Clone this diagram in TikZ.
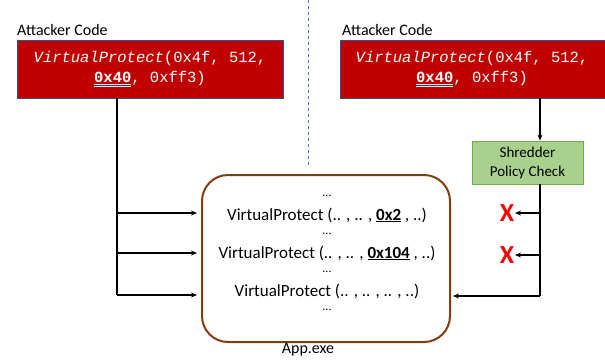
\documentclass[tikz,border=0pt]{standalone}
\usepackage{fontspec}
\setmainfont{Carlito}
\setmonofont{Liberation Mono}
\usetikzlibrary{arrows.meta}
\definecolor{boxred}{HTML}{C00000}
\definecolor{boxedge}{HTML}{2F528F}
\definecolor{grfill}{HTML}{A9D18E}
\definecolor{gredge}{HTML}{70AD47}
\definecolor{brown}{HTML}{843C0C}
\definecolor{dashblue}{HTML}{4472C4}
\newcommand{\dul}[1]{\underline{\underline{#1}}}
\tikzset{
  attbox/.style={draw=boxedge, line width=0.8pt, fill=boxred},
  codetext/.style={text=white, font=\ttfamily\fontsize{15.5}{20}\selectfont, align=center},
  lbl/.style={font=\fontsize{16}{18}\selectfont, anchor=west, inner sep=0pt},
  conn/.style={line width=1.3pt, -{Stealth[length=6pt,width=5pt]}},
  plain/.style={line width=1.3pt},
  apptext/.style={font=\fontsize{17}{19}\selectfont, inner sep=0pt},
  dots/.style={font=\fontsize{12}{14}\selectfont, inner sep=0pt},
  xmark/.style={text=red, font=\bfseries\fontsize{26}{28}\selectfont, inner sep=0pt}
}
\begin{document}
\begin{tikzpicture}[x=1pt,y=-1pt]
\useasboundingbox (0,0) rectangle (605,360);
% dashed divider
\draw[dashblue, dashed, line width=0.8pt] (308,0) -- (308,167);
% labels
\node[lbl] (l1) at (17,30) {Attacker Code};
\node[lbl] (l2) at (342,30) {Attacker Code};
% red boxes
\draw[attbox] (17,40) rectangle (283,98);
\coordinate (b1) at (117,98);
\node[codetext] (c1) at (150,69) {\textit{VirtualProtect}(0x4f, 512,\\\dul{\textbf{0x40}}, 0xff3)};
\draw[attbox] (340,40) rectangle (605,98);
\coordinate (b2) at (540,98);
\node[codetext] (c2) at (472,69) {\textit{VirtualProtect}(0x4f, 512,\\\dul{\textbf{0x40}}, 0xff3)};
% green box
\node[draw=gredge, line width=0.8pt, fill=grfill, minimum width=111pt, minimum height=43pt, align=center, inner sep=1pt, font=\fontsize{15}{19}\selectfont] (g) at (527.5,162.5) {Shredder\\Policy Check};
\draw[conn] (b2) -- (g.north -| b2);
% app box
\draw[brown, line width=2pt, rounded corners=26pt] (202,175) rectangle (450,342);
\node[dots] (d1) at (327,196) {...};
\node[apptext] (v1) at (327,215) {VirtualProtect (.. , .. , \underline{\textbf{0x2}} , ..)};
\node[dots] (d2) at (327,234) {...};
\node[apptext] (v2) at (327,253) {VirtualProtect (.. , .. , \underline{\textbf{0x104}} , ..)};
\node[dots] (d3) at (327,272) {...};
\node[apptext] (v3) at (327,291) {VirtualProtect (.. , .. , .. , ..)};
\node[dots] (d4) at (327,310) {...};
\node[font=\fontsize{16}{18}\selectfont, inner sep=0pt] (app) at (308,350) {App.exe};
% left connectors
\coordinate (lb) at (117,295);
\coordinate (a1) at (197,213);
\coordinate (a2) at (197,253);
\coordinate (a3) at (197,295);
\draw[plain] (b1) -- (lb);
\draw[conn] (a1 -| b1) -- (a1);
\draw[conn] (a2 -| b1) -- (a2);
\draw[conn] (lb) -- (a3);
% right connectors
\coordinate (rb) at (540,296);
\coordinate (r1) at (515,213);
\coordinate (r2) at (515,255);
\coordinate (r3) at (453,296);
\draw[plain] (g.south -| rb) -- (rb);
\draw[conn] (r1 -| rb) -- (r1);
\draw[conn] (r2 -| rb) -- (r2);
\draw[conn] (rb) -- (r3);
\node[xmark] (x1) at (507,213) {X};
\node[xmark] (x2) at (507,255) {X};
\end{tikzpicture}
\end{document}
